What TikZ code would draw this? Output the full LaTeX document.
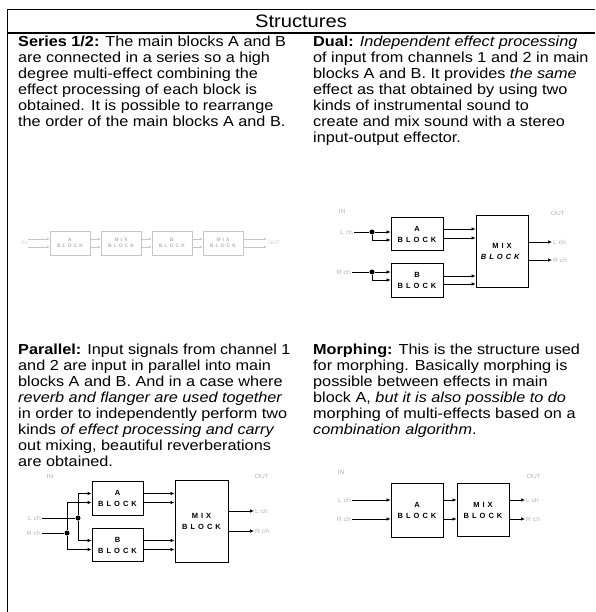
\documentclass[tikz,border=0pt]{standalone}
\usepackage{fontspec}
\setmainfont{Liberation Sans}[FakeStretch=1.12]
\newfontfamily\blkfont{Liberation Sans}[LetterSpace=40]
\usetikzlibrary{arrows.meta, calc}
\tikzset{
    blk/.style={draw,line width=0.8pt,align=center,inner sep=0pt,font=\blkfont\bfseries\fontsize{7.5}{11}\selectfont},
    sblk/.style={draw=gray!45,text=gray!60,align=center,inner sep=0pt,minimum width=40pt,minimum height=24pt,font=\blkfont\bfseries\fontsize{5}{6.5}\selectfont},
    jdot/.style={circle,fill=black,inner sep=0pt,minimum size=5pt},
    lbl/.style={text=gray!60,inner sep=1pt,font=\fontsize{6}{7}\selectfont},
    slbl/.style={text=gray!40,inner sep=1pt,font=\fontsize{5}{6}\selectfont},
    para/.style={anchor=north west,align=left,inner sep=0pt,font=\fontsize{14.5}{16}\selectfont},
    wire/.style={line width=0.7pt},
    arr/.style={wire,-{Latex[length=4pt,width=3.5pt]}},
    sarr/.style={draw=gray!45,line width=0.5pt,-{Latex[length=3pt,width=2.5pt]}},
}
\begin{document}
\begin{tikzpicture}[x=1pt,y=-1pt]
\useasboundingbox (0,0) rectangle (595,612);
% frame and heading
\draw[line width=0.6pt] (7,612) -- (7,9) -- (595,9);
\draw[line width=1.6pt] (7,33) -- (595,33);
\node[font=\fontsize{18}{20}\selectfont] (title) at (301,21) {Structures};

% texts
\node[para] (series) at (18,36) {\textbf{Series 1/2:} The main blocks A and B\\
are connected in a series so a high\\
degree multi-effect combining the\\
effect processing of each block is\\
obtained. It is possible to rearrange\\
the order of the main blocks A and B.};
\node[para] (dual) at (313,36) {\textbf{Dual:} \textit{Independent effect processing}\\
of input from channels 1 and 2 in main\\
blocks A and B. It provides \textit{the same}\\
effect as that obtained by using two\\
kinds of instrumental sound to\\
create and mix sound with a stereo\\
input-output effector.};
\node[para] (parallel) at (18,344) {\textbf{Parallel:} Input signals from channel 1\\
and 2 are input in parallel into main\\
blocks A and B. And in a case where\\
\textit{reverb and flanger are used together}\\
in order to independently perform two\\
kinds \textit{of effect processing and carry}\\
out mixing, beautiful reverberations\\
are obtained.};
\node[para] (morphing) at (313,344) {\textbf{Morphing:} This is the structure used\\
for morphing. Basically morphing is\\
possible between effects in main\\
block A, \textit{but it is also possible to do}\\
morphing of multi-effects based on a\\
\textit{combination algorithm}.};

% series 1/2
\node[slbl] (sIn) at (24,243) {IN};
\node[sblk] (s1) at (70,243) {A\\BLOCK};
\node[sblk] (s2) at (121,243) {MIX\\BLOCK};
\node[sblk] (s3) at (172,243) {B\\BLOCK};
\node[sblk] (s4) at (223,243) {MIX\\BLOCK};
\node[slbl] (sOut) at (274,243) {OUT};
\foreach \a/\b in {sIn/s1,s1/s2,s2/s3,s3/s4,s4/sOut}{
    \draw[sarr] ($(\a.east)+(0,-4)$) -- ($(\b.west |- \a.east)+(0,-4)$);
    \draw[sarr] ($(\a.east)+(0,4)$) -- ($(\b.west |- \a.east)+(0,4)$);
}

% dual
\node[lbl] (dIn) at (342,211) {IN};
\node[lbl,anchor=east] (dLch) at (354,232) {L ch};
\node[lbl,anchor=east] (dRch) at (352,272) {R ch};
\node[jdot] (dL) at (372,232) {};
\node[jdot] (dR) at (372,272) {};
\node[blk,minimum width=52pt,minimum height=33pt] (dA) at (417,234) {A\\BLOCK};
\node[blk,minimum width=52pt,minimum height=34pt] (dB) at (417,280) {B\\BLOCK};
\node[blk,minimum width=52pt,minimum height=72pt] (dMix) at (502,251) {MIX\\\textit{BLOCK}};
\node[lbl] (dOut) at (558,213) {OUT};
\node[lbl,anchor=west] (dOL) at (552,242) {L ch};
\node[lbl,anchor=west] (dOR) at (552,260) {R ch};
\draw[wire] (dLch) -- (dL);
\draw[wire] (dRch) -- (dR);
\draw[arr] (dL) -- (dL -| dA.west);
\draw[arr] (dL) |- ($(dL -| dA.west)+(0,8)$);
\draw[arr] (dR) -- (dR -| dB.west);
\draw[arr] (dR) |- ($(dR -| dB.west)+(0,8)$);
\draw[arr] ($(dA.east)+(0,-5)$) -- ($(dMix.west |- dA.east)+(0,-5)$);
\draw[arr] ($(dA.east)+(0,4)$) -- ($(dMix.west |- dA.east)+(0,4)$);
\draw[arr] ($(dB.east)+(0,-4)$) -- ($(dMix.west |- dB.east)+(0,-4)$);
\draw[arr] ($(dB.east)+(0,4)$) -- ($(dMix.west |- dB.east)+(0,4)$);
\draw[arr] (dMix.east |- dOL) -- (dOL);
\draw[arr] (dMix.east |- dOR) -- (dOR);

% parallel
\node[lbl] (pIn) at (50,476) {IN};
\node[lbl,anchor=east] (pLch) at (42,518) {L ch};
\node[lbl,anchor=east] (pRch) at (42,533) {R ch};
\node[jdot] (pL) at (78,518) {};
\node[jdot] (pR) at (67,533) {};
\node[blk,minimum width=51pt,minimum height=34pt] (pA) at (117.5,498) {A\\BLOCK};
\node[blk,minimum width=51pt,minimum height=33pt] (pB) at (117.5,545) {B\\BLOCK};
\node[blk,minimum width=53pt,minimum height=82pt] (pMix) at (201.5,521) {MIX\\BLOCK};
\node[lbl] (pOut) at (262,476) {OUT};
\node[lbl,anchor=west] (pOL) at (254,511) {L ch};
\node[lbl,anchor=west] (pOR) at (254,531) {R ch};
\draw[wire] (pLch) -- (pL);
\draw[wire] (pRch) -- (pR);
\draw[arr] (pL) |- ($(pA.west)+(0,-4.5)$);
\draw[arr] (pR) |- ($(pA.west)+(0,4.5)$);
\draw[arr] (pL) |- ($(pB.west)+(0,-4.5)$);
\draw[arr] (pR) |- ($(pB.west)+(0,4.5)$);
\draw[arr] ($(pA.east)+(0,-4.5)$) -- ($(pMix.west |- pA.east)+(0,-4.5)$);
\draw[arr] ($(pA.east)+(0,4.5)$) -- ($(pMix.west |- pA.east)+(0,4.5)$);
\draw[arr] ($(pB.east)+(0,-4.5)$) -- ($(pMix.west |- pB.east)+(0,-4.5)$);
\draw[arr] ($(pB.east)+(0,4.5)$) -- ($(pMix.west |- pB.east)+(0,4.5)$);
\draw[arr] (pMix.east |- pOL) -- (pOL);
\draw[arr] (pMix.east |- pOR) -- (pOR);

% morphing
\node[lbl] (mIn) at (341,472) {IN};
\node[lbl,anchor=east] (mLch) at (352,500) {L ch};
\node[lbl,anchor=east] (mRch) at (352,519) {R ch};
\node[blk,minimum width=52pt,minimum height=54pt] (mA) at (417,510) {A\\BLOCK};
\node[blk,minimum width=52pt,minimum height=53pt] (mMix) at (483,510) {MIX\\BLOCK};
\node[lbl] (mOut) at (534,476) {OUT};
\node[lbl,anchor=west] (mOL) at (525,500) {L ch};
\node[lbl,anchor=west] (mOR) at (525,519) {R ch};
\draw[arr] (mLch) -- (mLch -| mA.west);
\draw[arr] (mRch) -- (mRch -| mA.west);
\draw[arr] (mA.east |- mLch) -- (mMix.west |- mLch);
\draw[arr] (mA.east |- mRch) -- (mMix.west |- mRch);
\draw[arr] (mMix.east |- mOL) -- (mOL);
\draw[arr] (mMix.east |- mOR) -- (mOR);
\end{tikzpicture}
\end{document}
